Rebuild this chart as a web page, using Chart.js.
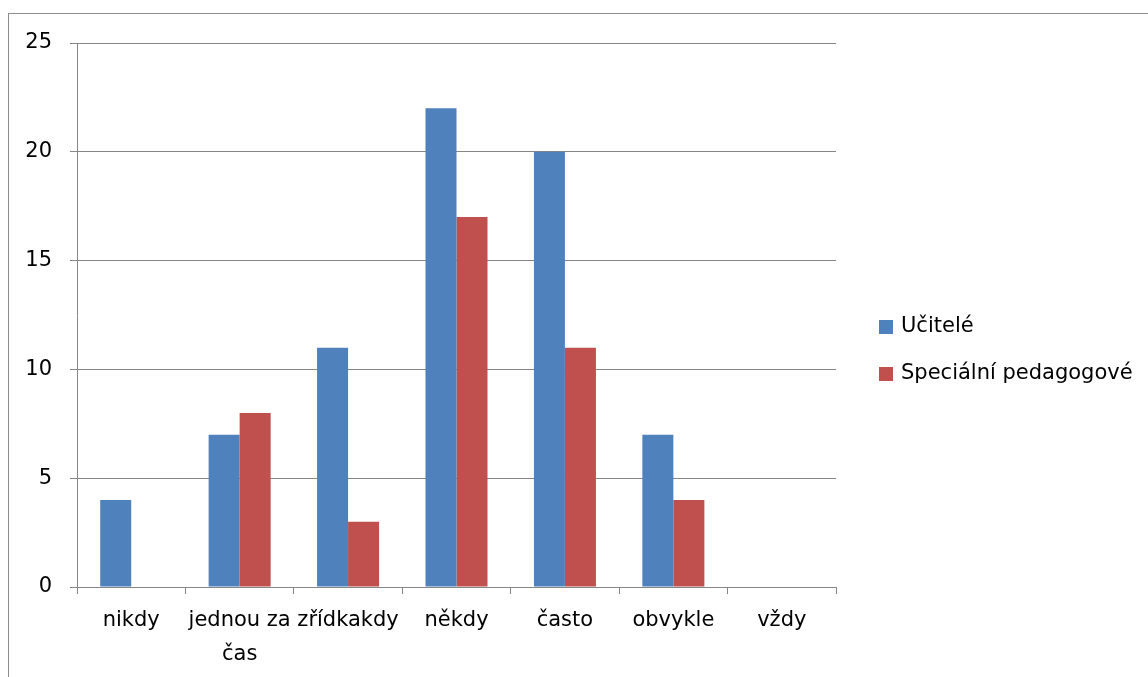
<!DOCTYPE html>
<html>
<head>
<meta charset="utf-8">
<script src="https://cdn.jsdelivr.net/npm/chart.js@4/dist/chart.umd.min.js"></script>
<style>
  html, body { margin: 0; padding: 0; background: #fff; }
  #wrap { position: relative; width: 1148px; height: 677px; overflow: hidden; }
  #frame { position: absolute; left: 8px; top: 13px; width: 1200px; height: 700px;
           border-left: 1px solid #8c8c8c; border-top: 1px solid #8c8c8c; }
  canvas { position: absolute; left: 0; top: 0; }
  .leg { position: absolute; left: 879px; font-family: "DejaVu Sans", sans-serif; font-size: 21px;
         line-height: 21px; color: #000; white-space: nowrap; }
  .leg i { display: inline-block; width: 14px; height: 14px; margin-right: 8px; vertical-align: -2px; }
</style>
</head>
<body>
<div id="wrap">
  <div id="frame"></div>
  <canvas id="c" width="1148" height="677"></canvas>
  <div class="leg" id="leg0" style="top:315px"><i style="background:#4F81BD"></i>Učitelé</div>
  <div class="leg" id="leg1" style="top:362px"><i style="background:#C0504D"></i>Speciální pedagogové</div>
</div>
<script>
const categories = ["nikdy", ["jednou za", "čas"], "zřídkakdy", "někdy", "často", "obvykle", "vždy"];
const seriesNames = ["Učitelé", "Speciální pedagogové"];
const ucitele = [4, 7, 11, 22, 20, 7, 0];
const specialni = [0, 8, 3, 17, 11, 4, 0];
const yTicks = [0, 5, 10, 15, 20, 25];
const colors = ["#4F81BD", "#C0504D"];

const FONT = { family: "'DejaVu Sans', sans-serif", size: 21 };
const GRID = "#868686";

new Chart(document.getElementById("c"), {
  type: "bar",
  data: {
    labels: categories,
    datasets: [
      { label: seriesNames[0], data: ucitele, backgroundColor: colors[0] },
      { label: seriesNames[1], data: specialni, backgroundColor: colors[1] }
    ]
  },
  options: {
    responsive: false,
    animation: false,
    events: [],
    layout: { padding: { left: 0, top: 43, right: 312, bottom: 0 } },
    plugins: { legend: { display: false }, tooltip: { enabled: false }, title: { display: false } },
    datasets: { bar: { categoryPercentage: 0.572, barPercentage: 1 } },
    scales: {
      x: {
        grid: { display: true, drawOnChartArea: false, drawTicks: true, tickLength: 7, color: GRID, offset: true },
        border: { display: true, color: GRID, width: 1 },
        ticks: { color: "#000", font: { ...FONT, lineHeight: 1.64 }, padding: 9, autoSkip: false, maxRotation: 0, minRotation: 0 },
        afterFit: s => { s.height = 90; }
      },
      y: {
        min: 0, max: 25,
        afterBuildTicks: s => { s.ticks = yTicks.map(v => ({ value: v })); },
        grid: { color: GRID, tickLength: 7, drawTicks: true },
        border: { display: true, color: GRID, width: 1 },
        ticks: { color: "#000", font: FONT, padding: 18 },
        afterFit: s => { s.width = 77; }
      }
    }
  }
});
</script>
</body>
</html>
